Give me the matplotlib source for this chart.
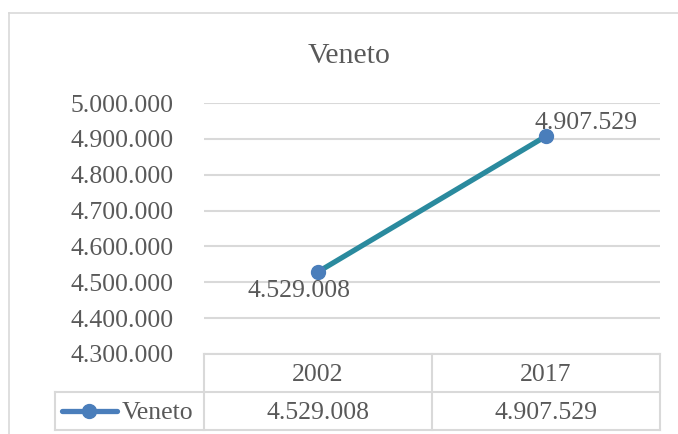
import matplotlib as mpl; mpl.use('Agg')
import matplotlib.pyplot as plt
from matplotlib.lines import Line2D
import matplotlib.transforms as mtransforms

# data
region = "Veneto"
years = ["2002", "2017"]
population = [4529008, 4907529]
ymin, ymax, ystep = 4300000, 5000000, 100000

def fmt(v):
    return f"{v:,.0f}".replace(",", ".")

plt.rcParams['font.family'] = ['Liberation Serif', 'DejaVu Serif']
grey_txt = '#595959'
grid_col = '#d9d9d9'
line_col = '#2a8a9e'
mark_col = '#4a7ebb'

W, H = 678, 434
fig = plt.figure(figsize=(W / 100, H / 100), dpi=100)

def px(x, y):  # pixel -> figure fraction
    return x / W, 1 - y / H

# outer chart border (cropped on right / bottom)
fig.add_artist(Line2D([9 / W, 1], [1 - 13 / H] * 2, color=grid_col, lw=1.2))
fig.add_artist(Line2D([9 / W] * 2, [0, 1 - 13 / H], color=grid_col, lw=1.2))

ax = fig.add_axes([204 / W, (H - 354) / H, 456 / W, 251 / H])
x = list(range(len(years)))
ax.plot(x, population, color=line_col, lw=3.8, marker='o', markersize=10,
        markerfacecolor=mark_col, markeredgecolor=mark_col, zorder=3)

ax.set_xlim(-0.5, len(years) - 0.5)
ax.set_ylim(ymin, ymax)
yt = list(range(ymin, ymax + 1, ystep))
ax.set_yticks(yt)
ax.set_yticklabels([fmt(v) for v in yt], fontsize=18.5, color=grey_txt)
ax.tick_params(axis='y', length=0, pad=22)
ax.set_xticks([])
ax.grid(axis='y', color=grid_col, lw=1.5)
ax.set_axisbelow(True)
for s in ax.spines.values():
    s.set_visible(False)

# data labels
offsets = [(-19, -25), (40, 7)]
for xi, v, (dx, dy) in zip(x, population, offsets):
    ax.annotate(fmt(v), (xi, v), xytext=(dx, dy), textcoords='offset pixels',
                ha='center', va='baseline', fontsize=18.5, color=grey_txt)

fig.text(*px(349.5, 63), region, ha='center', va='baseline', fontsize=21.5, color=grey_txt)

# data table below the plot
tr = mtransforms.blended_transform_factory(ax.transData, fig.transFigure)
def fy(y):
    return 1 - y / H

table_top, row_mid, table_bot = 354, 391.5, 430
left_px = 55
xl = -0.5 + (left_px - 204) / 456 * len(years)  # legend column left edge in data units
edges = [i - 0.5 for i in range(len(years) + 1)]
kw = dict(color=grid_col, lw=1.5, transform=tr, clip_on=False)
fig.add_artist(Line2D([edges[0], edges[-1]], [fy(table_top)] * 2, **kw))
fig.add_artist(Line2D([xl, edges[-1]], [fy(row_mid)] * 2, **kw))
fig.add_artist(Line2D([xl, edges[-1]], [fy(table_bot)] * 2, **kw))
fig.add_artist(Line2D([xl, xl], [fy(row_mid), fy(table_bot)], **kw))
for e in edges:
    fig.add_artist(Line2D([e, e], [fy(table_top), fy(table_bot)], **kw))

for xi, yr, v in zip(x, years, population):
    fig.text(xi, fy(381), yr, transform=tr, ha='center', va='baseline',
             fontsize=18.5, color=grey_txt)
    fig.text(xi, fy(419), fmt(v), transform=tr, ha='center', va='baseline',
             fontsize=18.5, color=grey_txt)

# legend key in the table
fig.add_artist(Line2D([62 / W, 117 / W], [fy(411)] * 2, color=mark_col, lw=3.8,
                      solid_capstyle='round'))
fig.add_artist(Line2D([89 / W], [fy(411)], color=mark_col, marker='o', markersize=10, lw=0))
fig.text(122 / W, fy(419), region, ha='left', va='baseline', fontsize=18.5, color=grey_txt)

fig.savefig('out.png', dpi=100)
